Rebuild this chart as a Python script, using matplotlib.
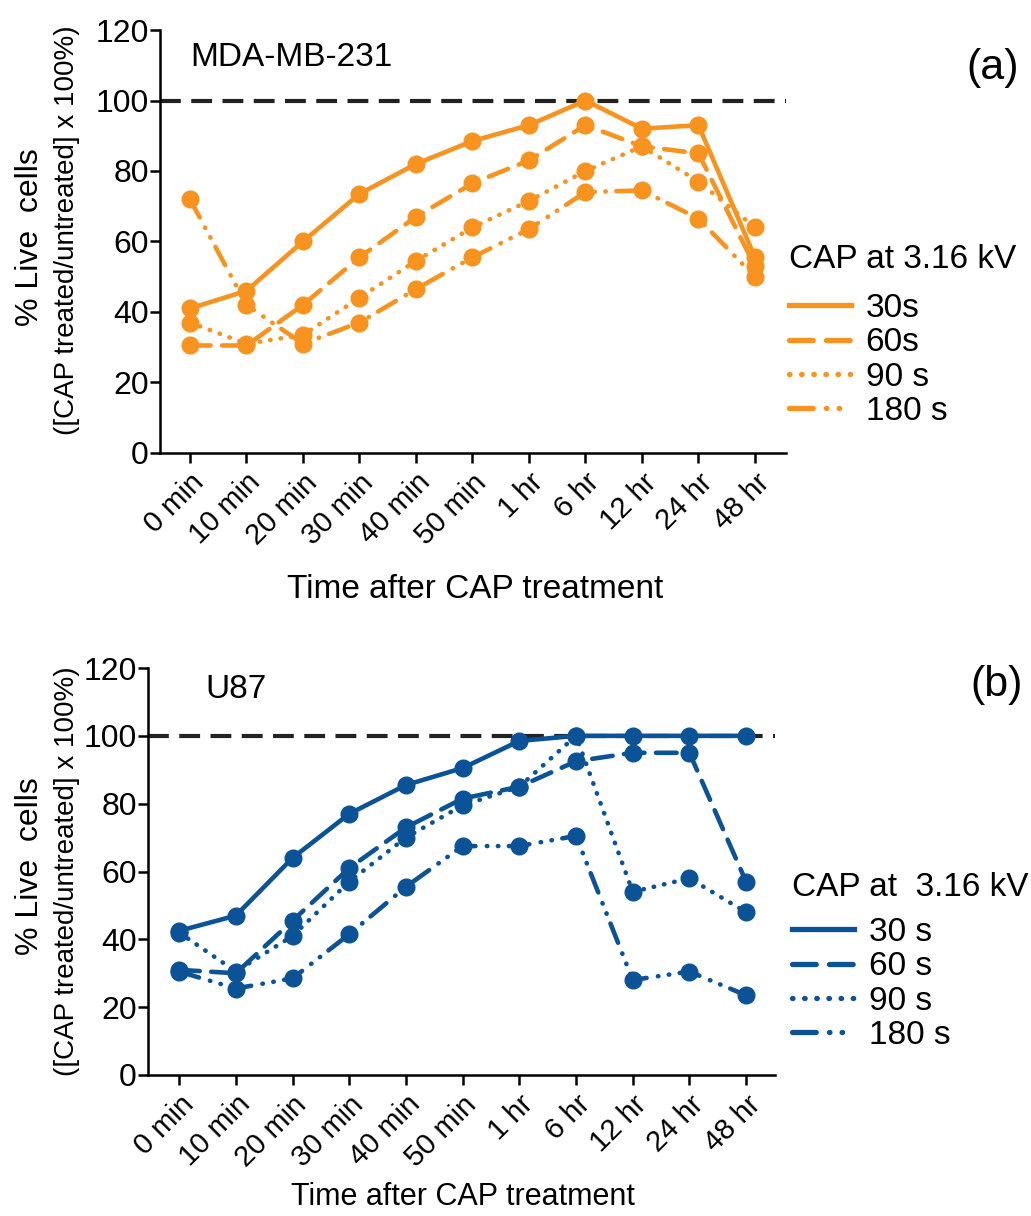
import matplotlib
matplotlib.use('Agg')
import matplotlib.pyplot as plt
from matplotlib.lines import Line2D

plt.rcParams['font.family'] = ['Liberation Sans', 'DejaVu Sans']

# Data
times = ['0 min', '10 min', '20 min', '30 min', '40 min', '50 min',
         '1 hr', '6 hr', '12 hr', '24 hr', '48 hr']

mda_30 = [41, 46, 60, 73.5, 82, 88.5, 93, 100, 92, 93, 55.5]
mda_60 = [30.5, 30.5, 42, 55.5, 67, 76.5, 83, 93, 87, 85, 53]
mda_90 = [37, 31, 33.5, 44, 54.5, 64, 71.5, 80, 87, 77, 64]
mda_180 = [72, 42, 31, 37, 46.5, 55.5, 63.5, 74, 74.5, 66.5, 50]

u87_30 = [42.5, 47, 64, 77, 85.5, 90.5, 98.5, 100, 100, 100, 100]
u87_60 = [31, 30, 45.5, 61, 73, 81.5, 85, 92.5, 95, 95, 57]
u87_90 = [42, 30.5, 41, 57, 70, 79.5, 85, 100, 54, 58, 48]
u87_180 = [30.5, 25.5, 28.5, 41.5, 55.5, 67.5, 67.5, 70.5, 28, 30.5, 23.5]

mda_labels = ['30s', '60s', '90 s', '180 s']
u87_labels = ['30 s', '60 s', '90 s', '180 s']

orange = '#F7931E'
blue = '#0B5396'

# line styles: solid, dashed, dotted, dash-dot-dot
styles = [None, (4.5, 2.5), (0.1, 2.2), (4.5, 2.5, 0.1, 2.3, 0.1, 2.3)]

W, H = 1031, 1216
fig = plt.figure(figsize=(W / 100, H / 100), dpi=100)


def px(x0, y0, x1, y1):
    # pixel box (left, top, right, bottom) -> figure fraction rect
    return [x0 / W, 1 - y1 / H, (x1 - x0) / W, (y1 - y0) / H]


def draw_panel(ax, series, color, xlim):
    x = list(range(len(times)))
    ax.axhline(100, color='#222222', lw=3, dashes=(5, 2.5), zorder=1)
    for vals, st in zip(series, styles):
        kw = dict(color=color, lw=3.3, marker='o', markersize=12, zorder=3)
        if st is None:
            ax.plot(x, vals, **kw)
        else:
            ax.plot(x, vals, dashes=st, dash_capstyle='round', **kw)
    ax.set_xlim(*xlim)
    ax.set_ylim(0, 120)
    ax.set_yticks(range(0, 121, 20))
    ax.set_xticks(x)
    ax.set_xticklabels(times, rotation=45, ha='right', rotation_mode='anchor', fontsize=21)
    ax.tick_params(axis='y', labelsize=23, length=7, width=1.8, pad=1)
    ax.tick_params(axis='x', length=7, width=1.8, pad=4)
    for s in ['top', 'right']:
        ax.spines[s].set_visible(False)
    for s in ['left', 'bottom']:
        ax.spines[s].set_linewidth(1.8)

    handles = []
    for st in styles:
        if st is None:
            handles.append(Line2D([], [], color=color, lw=3.8))
        else:
            handles.append(Line2D([], [], color=color, lw=3.8, dashes=st,
                                  dash_capstyle='round'))
    return handles


def add_legend(ax, handles, labels, title, tx, ty, ly):
    fig.text(tx / W, 1 - ty / H, title, fontsize=24, ha='left', va='center')
    ax.legend(handles, labels, loc='upper left',
              bbox_to_anchor=(tx / W, 1 - ly / H), bbox_transform=fig.transFigure,
              frameon=False, fontsize=24, borderpad=0, borderaxespad=0,
              handlelength=1.85, handletextpad=0.45, labelspacing=0.1)


# panel (a)
ax1 = fig.add_axes(px(160, 30, 786, 453))
h1 = draw_panel(ax1, [mda_30, mda_60, mda_90, mda_180], orange, (-0.53, 10.55))
add_legend(ax1, h1, mda_labels, 'CAP at 3.16 kV', 789, 260, 293)

# panel (b)
ax2 = fig.add_axes(px(148, 668, 775, 1075))
h2 = draw_panel(ax2, [u87_30, u87_60, u87_90, u87_180], blue, (-0.55, 10.51))
add_legend(ax2, h2, u87_labels, 'CAP at  3.16 kV', 792, 888, 917)

# texts
fig.text(190 / W, 1 - 58 / H, 'MDA-MB-231', fontsize=24, va='center', ha='left')
fig.text(205 / W, 1 - 690 / H, 'U87', fontsize=24, va='center', ha='left')
fig.text(993 / W, 1 - 68 / H, '(a)', fontsize=31, va='center', ha='center')
fig.text(997 / W, 1 - 685 / H, '(b)', fontsize=31, va='center', ha='center')

fig.text(475 / W, 1 - 590 / H, 'Time after CAP treatment', fontsize=24,
         ha='center', va='center')
fig.text(463 / W, 1 - 1197 / H, 'Time after CAP treatment', fontsize=22,
         ha='center', va='center')

fig.text(30 / W, 1 - 237 / H, '% Live  cells', fontsize=23, rotation=90,
         ha='center', va='center')
fig.text(67 / W, 1 - 230 / H, '([CAP treated/untreated] x 100%)', fontsize=20,
         rotation=90, ha='center', va='center')
fig.text(30 / W, 1 - 866 / H, '% Live  cells', fontsize=23, rotation=90,
         ha='center', va='center')
fig.text(67 / W, 1 - 871 / H, '([CAP treated/untreated] x 100%)', fontsize=20,
         rotation=90, ha='center', va='center')

fig.savefig('out.png', dpi=100)
